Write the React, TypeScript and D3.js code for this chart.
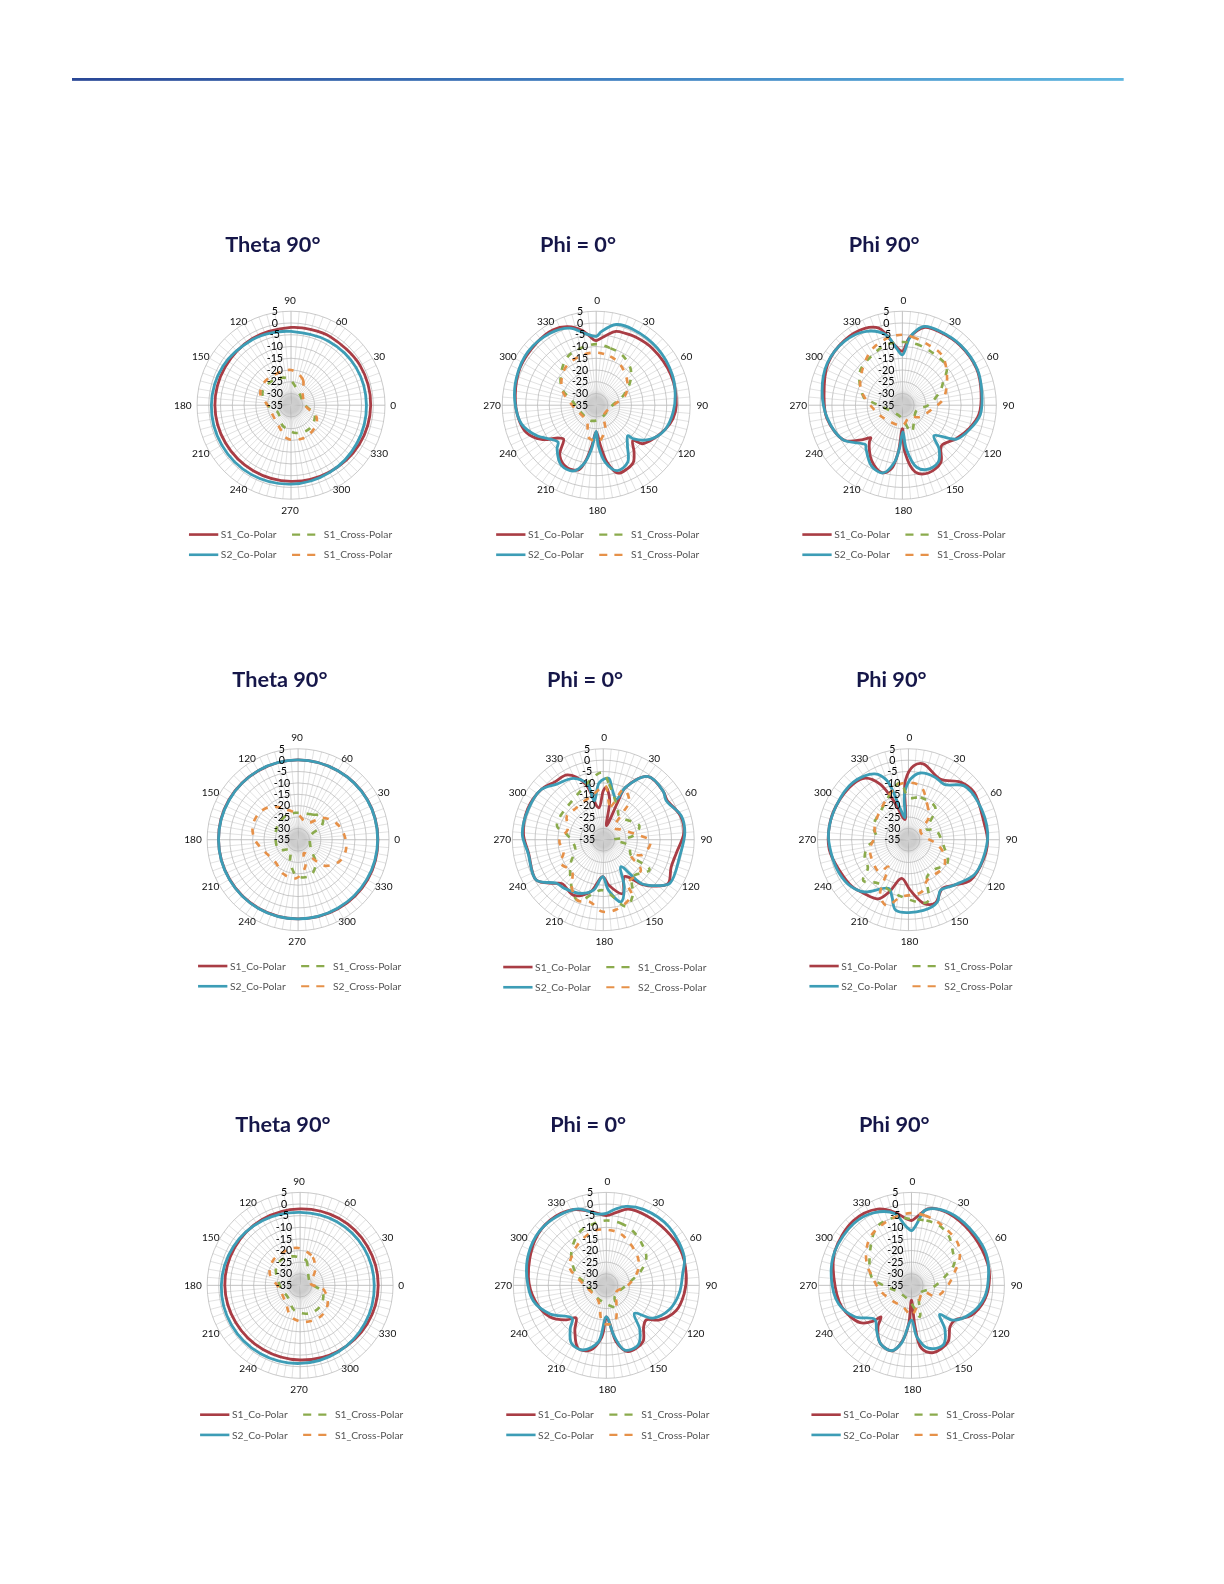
import { useLayoutEffect } from 'react'

import { lineRadial, curveCatmullRomClosed, range, scaleLinear } from 'd3'

type Pt = [number, number]

const dbTicks = [5, 0, -5, -10, -15, -20, -25, -30, -35]
const angleTicks = [0, 30, 60, 90, 120, 150, 180, 210, 240, 270, 300, 330]
const spokes = range(0, 360, 5)

// [angle as on the chart's own axis, dB]
const a1Red: Pt[] = [[0,-1.1],[30,-1.1],[60,-1.4],[75,-1.7],[90,-1.9],[120,-2.2],[150,-2.6],[180,-2.6],[210,-2.8],[240,-2.8],[270,-2.6],[300,-2.2],[330,-1.5]]
const a1Blue: Pt[] = [[0,-2.9],[30,-3],[60,-3.4],[90,-3.6],[105,-3.1],[120,-2.6],[150,-1.6],[180,-1.1],[210,-1],[240,-1],[270,-1.4],[300,-2],[330,-2.6]]
const a1Green: Pt[] = [[96,-23.6],[54,-28.9],[5,-29.4],[337,-24],[308,-22.3],[280,-23],[247,-25.7],[207,-28.6],[180,-25],[155,-21.6],[124,-22]]
const a1Orange: Pt[] = [[90,-20],[65,-23],[45,-28],[0,-29],[335,-23],[315,-21],[289,-20],[264,-20.7],[242,-24.4],[180,-25],[159,-21],[135,-20]]

const a2Red: Pt[] = [[0,-7.5],[8,-5],[15,-2.5],[22,-2],[30,-1.5],[45,-1],[68,-.7],[90,-.9],[100,-1.8],[110,-4],[123,-7.4],[130,-9.5],[134,-13.3],[141,-9.4],[147,-6],[154,-4.9],[162,-4.6],[169,-10],[174,-17.8],[180,-23.6],[186,-17.8],[190,-11.9],[195,-6.6],[205,-5.7],[216,-8.6],[224,-15],[229,-13.7],[238,-7.5],[249,-3],[261,-1.4],[277,-.3],[296,1.1],[316,1.7],[330,2],[340,.6],[350,-2.9],[358,-7.2]]
const a2Blue: Pt[] = [[0,-5.7],[4,-3.6],[14,.4],[26,.9],[47,.6],[68,-.1],[83,-1.1],[95,-2.1],[109,-3.8],[122,-7.7],[132,-13.6],[134,-16.3],[142,-13.4],[151,-7.3],[162,-5.7],[171,-10.4],[177,-17.8],[180,-23.9],[186,-16.4],[192,-9.4],[199,-5.4],[210,-5.4],[222,-10.1],[226,-12.4],[243,-6.5],[256,-2.2],[273,-.3],[289,.9],[308,1.9],[327,1.4],[341,-.3],[351,-4]]
const a2Green: Pt[] = [[0,-9],[14,-10],[27,-10.9],[43,-13.6],[55,-17.3],[70,-22.6],[92,-28.3],[163,-29],[200,-28],[240,-28],[282,-24.3],[296,-18.7],[314,-14.4],[330,-11],[344,-9.9]]
const a2Orange: Pt[] = [[0,-12.6],[16,-13.4],[30,-14.8],[53,-18.4],[71,-21.9],[90,-27.6],[143,-29.7],[159,-24.3],[176,-19.6],[194,-21],[209,-26.9],[266,-25.3],[296,-18.7],[320,-14.4],[342,-13]]

const a3Red: Pt[] = [[0,-12],[6,-6],[16,-.5],[27,0],[44,.4],[64,.2],[80,-1],[97,-2.2],[109,-4.8],[122,-8],[136,-11],[146,-5.7],[159,-4.1],[169,-6],[177,-15],[180,-25],[185,-14.9],[190,-7.4],[197,-5],[209,-8],[222,-14],[224,-15.7],[229,-12.7],[239,-6.1],[260,-2.4],[277,-1.4],[299,1.3],[318,2],[334,1.4],[343,-.7],[347,-4],[354,-10]]
const a3Blue: Pt[] = [[0,-13.6],[6,-6.3],[11,-2.3],[16,-.1],[27,.3],[44,.6],[64,.4],[80,-.7],[97,-1.6],[109,-4.4],[122,-7.8],[134,-16.3],[140,-10.7],[148,-6.3],[159,-5.7],[167,-7.9],[175,-16.4],[179,-23.6],[184,-16.4],[188,-10.4],[196,-5],[207,-6],[220,-10.9],[223,-12],[240,-5.7],[260,-2.6],[280,-.3],[299,1.6],[318,1.7],[334,0],[347,-4.3],[354,-10.6]]
const a3Green: Pt[] = [[0,-8.1],[13,-8.3],[31,-9.3],[49,-10],[60,-14.9],[70,-18],[90,-24],[110,-28.6],[161,-23],[190,-30],[276,-21.7],[280,-18.6],[308,-12],[330,-10.1],[345,-8.4]]
const a3Orange: Pt[] = [[0,-5],[9,-5.7],[23,-7],[38,-7.8],[56,-12.1],[81,-17.3],[96,-21.9],[124,-26],[148,-29.1],[180,-26.4],[224,-26],[255,-23.6],[290,-16.3],[308,-12.9],[331,-8],[348,-5.7]]

const b1Red: Pt[] = [[0,.1],[30,.2],[60,0],[90,.1],[120,0],[150,.1],[180,0],[210,-.2],[240,-.2],[270,-.2],[300,.1],[330,.3]]
const b1Blue: Pt[] = [[0,0],[30,.1],[60,0],[90,.1],[120,.1],[150,0],[180,0],[210,-.1],[240,-.1],[270,-.2],[300,-.2],[330,-.1]]
const b1Green: Pt[] = [[96,-23.1],[61,-22.3],[44,-20.2],[30,-23],[18,-29.2],[326,-28.3],[307,-22.1],[289,-18.3],[268,-19],[250,-24.8],[232,-29.4],[207,-25.4],[155,-24.4],[118,-23.2]]
const b1Orange: Pt[] = [[128,-16.5],[110,-21],[90,-23.9],[62,-26.6],[42,-20.6],[24,-16.8],[6,-14.6],[348,-13.5],[331,-14.7],[315,-18.9],[306,-25.8],[293,-28.6],[285,-22.7],[267,-18],[247,-18.6],[224,-21],[199,-19.3],[180,-16],[163,-14.1],[144,-14.3]]

const b2Red: Pt[] = [[0,-13.5],[3,-12],[9,-17],[13,-28.6],[21,-17.5],[23,-10],[35,-1],[51,-1.1],[58,-2],[73,.6],[85,.6],[100,-2.3],[112,-2.8],[124,-.6],[132,-4.5],[139,-9],[150,-16.3],[160,-9.8],[173,-14.8],[181,-18.7],[194,-11.3],[208,-7.3],[223,-8.5],[229,-5.8],[239,-.6],[260,-1.6],[274,.2],[292,.9],[309,.1],[320,-1.8],[331,-2.4],[342,-9],[352,-20.8]]
const b2Blue: Pt[] = [[5,-7.9],[10,-12.4],[18,-16.3],[23,-10],[35,-1],[51,-1.1],[58,-2.4],[73,.9],[85,1],[102,-.6],[123,0],[130,-3.6],[139,-9.5],[147,-20.9],[156,-12.3],[164,-6.6],[174,-12.6],[181,-18.7],[191,-12.4],[202,-9.5],[218,-7.7],[227,-6.9],[239,-.6],[260,-1.4],[274,.7],[292,.6],[309,.1],[320,-3.1],[334,-5],[344,-9.5],[347,-17.5],[356,-9.8]]
const b2Green: Pt[] = [[359,-5.4],[6,-10.4],[24,-19.6],[34,-22.5],[69,-18],[83,-22],[90,-30.3],[103,-23.3],[119,-21.2],[123,-10.7],[142,-14.2],[152,-7.3],[161,-4],[181,-12.8],[203,-6],[231,-16.2],[253,-22.1],[278,-18.9],[287,-13.7],[329,-12.3]]
const b2Orange: Pt[] = [[2,-11.3],[12,-19.9],[22,-11],[34,-14.5],[36,-20.5],[42,-28],[60,-26.1],[82,-19.7],[92,-14.2],[111,-16.5],[119,-21.2],[129,-13.7],[151,-13],[153,-7.6],[170,-3.7],[181,-3.4],[192,-7],[203,-6],[214,-10.1],[224,-15.3],[242,-13.5],[251,-16.5],[269,-15.7],[286,-18.7],[303,-15.9],[318,-16.6],[348,-14.5]]

const b3Red: Pt[] = [[350,-26],[340,-17.7],[333,-7.5],[325,-1.9],[315,-.5],[295,.1],[280,.3],[263,.1],[246,-1.8],[230,-2.8],[220,-4.3],[207,-5.8],[200,-10.7],[190,-17.7],[178,-12.8],[166,-6],[157,-4.8],[145,-8.9],[135,-6.7],[123,-2.4],[105,-.9],[91,-.2],[78,-.9],[54,.6],[42,-.9],[28,-4.9],[11,-1],[4,-2.4],[357,-9]]
const b3Blue: Pt[] = [[351,-25.2],[354,-17.1],[356,-13.5],[2,-8.3],[10,-5.2],[23,-5.1],[33,-6],[46,-.9],[61,-.2],[85,0],[105,-1.2],[118,-2.2],[135,-6.7],[148,-8.6],[155,-4.8],[168,-3.2],[190,-3.4],[196,-8.8],[202,-11.9],[220,-5],[231,-2.4],[244,-1.2],[260,-.5],[275,.3],[295,.1],[316,.1],[333,-2.5],[340,-7.3],[345,-20.5]]
const b3Green: Pt[] = [[0,-16.5],[16,-15.7],[40,-16.6],[61,-25.7],[69,-22.4],[101,-19.1],[121,-15],[140,-17.7],[153,-16.8],[163,-6.4],[190,-10.1],[215,-11.6],[228,-8.2],[235,-13.2],[249,-14.4],[261,-17],[273,-20.9],[291,-18.4],[313,-17.7],[352,-9.5]]
const b3Orange: Pt[] = [[12,-10.7],[28,-17.4],[43,-22],[55,-28.6],[85,-26.9],[97,-23],[111,-18.4],[127,-15.4],[155,-15.4],[166,-11.3],[188,-9.5],[198,-4.5],[207,-7.5],[217,-20.2],[222,-15.9],[255,-17.4],[276,-20.2],[292,-19],[320,-16.6],[351,-10.3]]

const c1Red: Pt[] = [[0,-1.4],[30,-1.5],[60,-1.7],[90,-2.1],[120,-2.3],[150,-2.5],[180,-2.6],[210,-3],[240,-3.1],[270,-2.9],[300,-2.3],[330,-1.7]]
const c1Blue: Pt[] = [[0,-3.1],[30,-3.2],[60,-3.4],[90,-3.6],[120,-2.8],[150,-1.8],[180,-1.1],[210,-.9],[240,-1],[270,-1.4],[300,-2],[330,-2.7]]
const c1Green: Pt[] = [[101,-22.3],[76,-24],[63,-27.7],[13,-30.5],[344,-24.9],[316,-22.6],[288,-22.3],[257,-24],[223,-27.7],[190,-26.7],[143,-22],[123,-21.4]]
const c1Orange: Pt[] = [[93,-18.9],[66,-21.7],[44,-26.1],[8,-30.3],[352,-25.1],[326,-20.7],[304,-19],[278,-19.1],[254,-20.9],[232,-25.1],[189,-26],[159,-21],[136,-19.1],[112,-18.9]]

const c2Red: Pt[] = [[0,-5],[8,-3.3],[16,-.9],[30,-.4],[47,-.1],[65,.4],[82,-.3],[96,-1.3],[110,-3.1],[123,-7.7],[131,-12.3],[138,-11],[147,-6.1],[162,-5],[170,-10.3],[175,-18.6],[180,-21.4],[185,-12.7],[194,-6.3],[204,-5.3],[215,-11.4],[223,-15.9],[229,-12.4],[241,-7.1],[258,-3.6],[276,-1.3],[302,1.3],[319,2],[336,.6],[350,-3]]
const c2Blue: Pt[] = [[0,-4],[7,-1.9],[14,0],[26,1.4],[47,1.9],[70,.7],[81,-1.7],[96,-3.4],[111,-5.9],[125,-10.4],[135,-17.9],[143,-11],[152,-5.9],[164,-6],[171,-12.6],[180,-21.4],[188,-10.4],[200,-5.4],[211,-5.9],[220,-10.9],[226,-14.6],[243,-7.9],[258,-2.9],[276,-.6],[292,1.1],[309,2],[325,1.4],[340,0],[353,-4.1]]
const c2Green: Pt[] = [[0,-7.1],[13,-7.6],[26,-9],[42,-11.7],[55,-14],[67,-18.7],[86,-25.7],[144,-28.9],[155,-24.7],[180,-27],[221,-28.4],[273,-26.4],[291,-21.1],[312,-14.7],[333,-9.4],[348,-8]]
const c2Orange: Pt[] = [[0,-11.1],[16,-12],[48,-16.8],[65,-20],[90,-25.7],[124,-29.9],[151,-26],[167,-18.9],[185,-18.6],[209,-27.7],[260,-27],[296,-17.4],[309,-15.7],[328,-13.2],[348,-10.9]]

const c3Red: Pt[] = [[0,-7.1],[4,-5.7],[12,-1.4],[19,-.3],[32,-.3],[53,-.9],[74,-.9],[84,-1.2],[101,-2.9],[117,-6.3],[129,-11.1],[137,-10.7],[147,-6.1],[162,-4.6],[171,-7.6],[175,-17],[180,-28.6],[184,-18.6],[189,-11.1],[196,-5.7],[208,-6.6],[219,-12.1],[224,-16.1],[227,-12.4],[234,-7.7],[253,-3.6],[276,-1.4],[294,1.1],[318,2.4],[336,.9],[347,-2.7],[356,-6.4]]
const c3Blue: Pt[] = [[0,-11.4],[5,-8.4],[10,-2.3],[18,-.4],[32,.3],[51,0],[67,-.1],[81,-1.4],[99,-3.1],[115,-6.6],[130,-11.7],[136,-17.6],[143,-11],[152,-5.9],[165,-7],[174,-12.7],[180,-20],[190,-9.6],[197,-5.6],[208,-6.6],[218,-10.6],[227,-13.5],[241,-7.1],[256,-2.6],[276,-.3],[294,1.1],[317,1.4],[333,.1],[347,-3.4],[354,-9.1]]
const c3Green: Pt[] = [[358,-6.4],[13,-6.4],[25,-6.6],[38,-8.6],[51,-12.1],[63,-14.3],[78,-21.1],[99,-26.4],[135,-30],[165,-21],[185,-28],[243,-28.6],[270,-22.9],[282,-17.4],[322,-8],[333,-5.3],[348,-5]]
const c3Orange: Pt[] = [[359,-3.9],[11,-4.4],[23,-5.6],[34,-6.7],[48,-8.1],[61,-11.3],[73,-15.6],[90,-19.3],[114,-23.3],[120,-29.2],[160,-26.6],[180,-22.1],[201,-25],[233,-24.3],[261,-21.3],[284,-17.3],[296,-13.6],[309,-10.1],[322,-7.3],[343,-5.1]]

const rowTitles = ['Theta 90°', 'Phi = 0°', 'Phi 90°']
const coLabels = ['S1_Co-Polar', 'S2_Co-Polar']

const COLORS = { red: '#a93c44', blue: '#3c9db6', green: '#8bab4d', orange: '#e69149', title: '#17194a' }

const panels = [
  { title: 0, theta: true, cx: 288, cy: 401, R: 93, tx: 270, ty: 249, lx: 187, ly: 529, cross2: 'S1_Cross-Polar', s: [a1Red, a1Blue, a1Green, a1Orange] },
  { title: 1, theta: false, cx: 590, cy: 401, R: 93, tx: 572, ty: 249, lx: 491, ly: 529, cross2: 'S1_Cross-Polar', s: [a2Red, a2Blue, a2Green, a2Orange] },
  { title: 2, theta: false, cx: 893, cy: 401, R: 93, tx: 875, ty: 249, lx: 794, ly: 529, cross2: 'S1_Cross-Polar', s: [a3Red, a3Blue, a3Green, a3Orange] },
  { title: 0, theta: true, cx: 295, cy: 831, R: 90, tx: 277, ty: 680, lx: 196, ly: 956, cross2: 'S2_Cross-Polar', s: [b1Red, b1Blue, b1Green, b1Orange] },
  { title: 1, theta: false, cx: 597, cy: 831, R: 90, tx: 579, ty: 680, lx: 498, ly: 957, cross2: 'S2_Cross-Polar', s: [b2Red, b2Blue, b2Green, b2Orange] },
  { title: 2, theta: false, cx: 899, cy: 831, R: 90, tx: 882, ty: 680, lx: 801, ly: 956, cross2: 'S2_Cross-Polar', s: [b3Red, b3Blue, b3Green, b3Orange] },
  { title: 0, theta: true, cx: 297, cy: 1272, R: 92, tx: 280, ty: 1120, lx: 198, ly: 1400, cross2: 'S1_Cross-Polar', s: [c1Red, c1Blue, c1Green, c1Orange] },
  { title: 1, theta: false, cx: 600, cy: 1272, R: 92, tx: 582, ty: 1120, lx: 501, ly: 1400, cross2: 'S1_Cross-Polar', s: [c2Red, c2Blue, c2Green, c2Orange] },
  { title: 2, theta: false, cx: 902, cy: 1272, R: 92, tx: 885, ty: 1120, lx: 803, ly: 1400, cross2: 'S1_Cross-Polar', s: [c3Red, c3Blue, c3Green, c3Orange] },
]

const LABEL_FONT = "Lato, 'Open Sans', sans-serif"

function Polar({ panel }: { panel: (typeof panels)[number] }) {
  const { cx, cy, R, theta, s } = panel
  const radius = scaleLinear().domain([-35, 5]).range([0, R]).clamp(true)
  // bearing is measured clockwise from the top, as lineRadial wants it
  const bearing = (deg: number) => ((theta ? 90 - deg : deg) * Math.PI) / 180
  const line = lineRadial<Pt>()
    .angle(d => bearing(d[0]))
    .radius(d => radius(d[1]))
    .curve(curveCatmullRomClosed.alpha(0.5))
  const styles = [
    { stroke: COLORS.red, width: 2.8, dash: undefined },
    { stroke: COLORS.blue, width: 2.8, dash: undefined },
    { stroke: COLORS.green, width: 2.6, dash: '6 7.5' },
    { stroke: COLORS.orange, width: 2.6, dash: '6 7.5' },
  ]

  return (
    <g transform={`translate(${cx},${cy})`}>
      <circle r={R * 0.15} fill="url(#hub)" />
      {spokes.map(deg => {
        const a = bearing(deg)
        return (
          <line
            key={deg}
            x1={0}
            y1={0}
            x2={R * Math.sin(a)}
            y2={-R * Math.cos(a)}
            stroke={deg % 90 === 0 ? '#9c9c9c' : '#cfcfcf'}
            strokeWidth={0.6}
          />
        )
      })}
      {dbTicks.slice(0, -1).map(db => (
        <circle key={db} r={radius(db)} fill="none" stroke="#b4b4b4" strokeWidth={0.7} />
      ))}
      {s.map((points, i) => (
        <path
          key={i}
          d={line(points) ?? ''}
          fill="none"
          stroke={styles[i].stroke}
          strokeWidth={styles[i].width}
          strokeDasharray={styles[i].dash}
          strokeLinejoin="round"
        />
      ))}
      {dbTicks.map(db => (
        <text
          key={db}
          x={-16}
          y={-radius(db)}
          dy="0.35em"
          textAnchor="middle"
          fontSize={10.5}
          fontFamily={LABEL_FONT}
          fill="#000"
        >
          {db}
        </text>
      ))}
      {angleTicks.map(deg => {
        const a = bearing(deg)
        const onAxis = deg % 90 === 0
        // labels off the axes sit on a slightly flattened ring in the original
        const rx = R + (onAxis ? 11 : 9)
        const ry = R + (onAxis ? 11 : 3)
        const horizontal = Math.abs(Math.sin(a)) > 0.99
        return (
          <text
            key={deg}
            x={rx * Math.sin(a) + (theta ? (horizontal ? -3 : -1) : 1)}
            y={-ry * Math.cos(a)}
            dy="0.35em"
            textAnchor="middle"
            fontSize={10}
            fontFamily={LABEL_FONT}
            fill="#111"
          >
            {deg}
          </text>
        )
      })}
    </g>
  )
}

function Legend({ panel }: { panel: (typeof panels)[number] }) {
  const { lx, ly, cross2 } = panel
  const textStyle = { fontSize: 10.2, fontFamily: LABEL_FONT, fill: '#555' }
  return (
    <g transform={`translate(${lx},${ly})`}>
      <line x1={0} x2={29} y1={0} y2={0} stroke={COLORS.red} strokeWidth={2.6} />
      <text x={31.5} dy="0.35em" {...textStyle}>{coLabels[0]}</text>
      <line x1={102} x2={126} y1={0} y2={0} stroke={COLORS.green} strokeWidth={2.2} strokeDasharray="8 7" />
      <text x={133.5} dy="0.35em" {...textStyle}>S1_Cross-Polar</text>
      <line x1={0} x2={29} y1={20} y2={20} stroke={COLORS.blue} strokeWidth={2.6} />
      <text x={31.5} y={20} dy="0.35em" {...textStyle}>{coLabels[1]}</text>
      <line x1={102} x2={126} y1={20} y2={20} stroke={COLORS.orange} strokeWidth={2.2} strokeDasharray="8 7" />
      <text x={133.5} y={20} dy="0.35em" {...textStyle}>{cross2}</text>
    </g>
  )
}

// the layout numbers above were measured on a view 1.05% smaller than the page
const VIEW_W = 1224 / 1.0105
const VIEW_H = 1584 / 1.0105

export default function App() {
  useLayoutEffect(() => {
    document.body.style.margin = '0'
  }, [])

  return (
    <svg
      width={1224}
      height={1584}
      viewBox={`0 0 ${VIEW_W} ${VIEW_H}`}
      style={{ display: 'block', background: '#fff' }}
    >
      <defs>
        <linearGradient id="rule" x1="0" x2="1" y1="0" y2="0">
          <stop offset="0" stopColor="#2a4796" />
          <stop offset="0.5" stopColor="#3f7fc0" />
          <stop offset="1" stopColor="#5fb6df" />
        </linearGradient>
        <radialGradient id="hub">
          <stop offset="0.55" stopColor="#c6c6c6" />
          <stop offset="1" stopColor="#e4e4e4" stopOpacity={0.3} />
        </radialGradient>
        <filter id="soft" x="0" y="0" width="100%" height="100%">
          <feGaussianBlur stdDeviation="0.45" />
        </filter>
      </defs>
      <g filter="url(#soft)">
        <rect x={71} y={77} width={1041} height={3} fill="url(#rule)" />
        {panels.map((panel, i) => (
          <g key={i}>
            <text
              x={panel.tx}
              y={panel.ty}
              textAnchor="middle"
              fontSize={21.5}
              fontWeight={700}
              fontFamily={LABEL_FONT}
              fill={COLORS.title}
            >
              {rowTitles[panel.title]}
            </text>
            <Polar panel={panel} />
            <Legend panel={panel} />
          </g>
        ))}
      </g>
    </svg>
  )
}
